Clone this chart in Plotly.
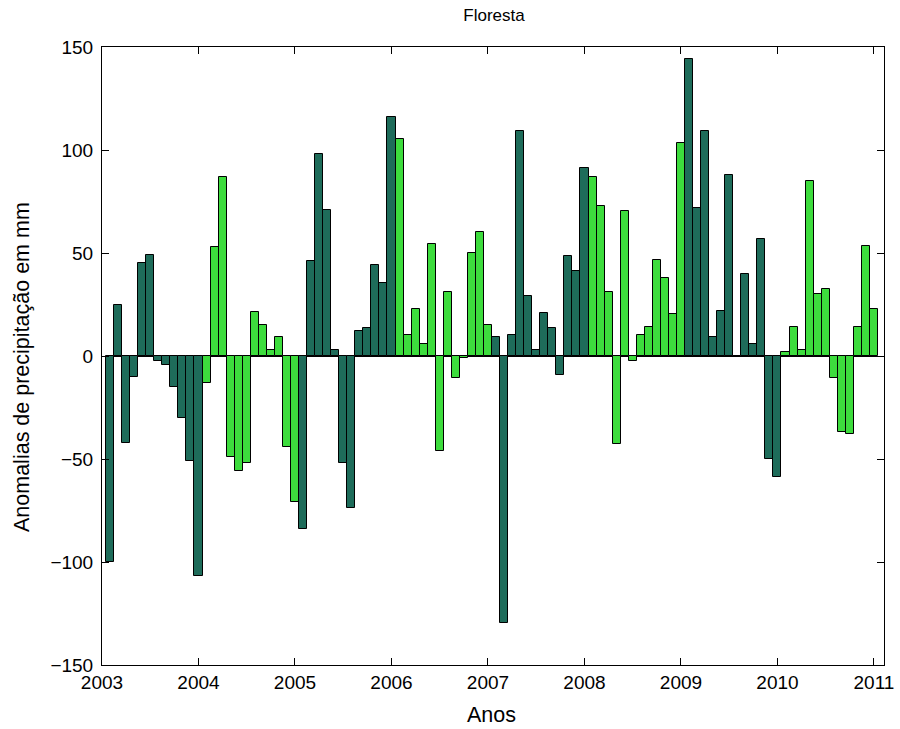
import numpy as np
import plotly.graph_objects as go

# Monthly precipitation anomalies (mm), Jan 2003 .. Dec 2010
years = [2003, 2004, 2005, 2006, 2007, 2008, 2009, 2010]
anom_2003 = [-100, 25, -42, -10, 45, 49, -2.5, -4.5, -15, -30, -51, -107]
anom_2004 = [-13, 53, 87, -49, -56, -52, 21.5, 15, 3, 9, -44, -71]
anom_2005 = [-84, 46, 98, 71, 3, -52, -74, 12, 13.5, 44, 35.5, 116]
anom_2006 = [105.5, 10, 23, 6, 54.5, -46, 31, -10.5, -1, 50, 60, 15]
anom_2007 = [9, -129.5, 10, 109, 29, 3, 21, 13.5, -9, 48.5, 41.5, 91.5]
anom_2008 = [87, 73, 31, -42.5, 70.5, -2.5, 10, 14, 46.5, 38, 20.5, 103.5]
anom_2009 = [144, 72, 109, 9, 22, 88, 0, 40, 6, 57, -50, -58.5]
anom_2010 = [2, 14, 3, 85, 30, 32.5, -10.5, -37, -38, 14, 53.5, 23]
series = [anom_2003, anom_2004, anom_2005, anom_2006,
          anom_2007, anom_2008, anom_2009, anom_2010]

x_ticks = [2003, 2004, 2005, 2006, 2007, 2008, 2009, 2010, 2011]
y_ticks = [-150, -100, -50, 0, 50, 100, 150]

DARK = "#1e6c5a"
GREEN = "#3ddc3d"

W, H = 900, 729
L, R, T, B = 102, 16, 47, 64

fig = go.Figure()
for i, (yr, vals) in enumerate(zip(years, series)):
    months = np.arange(1, 13)
    xs = yr + months / 12.0
    fig.add_trace(go.Bar(
        x=xs, y=vals, width=1 / 12.0,
        marker=dict(color=DARK if i % 2 == 0 else GREEN,
                    line=dict(color="black", width=1)),
        showlegend=False,
    ))

FAM = "Liberation Sans, Arial, sans-serif"
font = dict(family=FAM, size=19, color="black")

pw, ph = W - L - R, H - T - B
fig.update_layout(
    width=W, height=H,
    paper_bgcolor="white", plot_bgcolor="white",
    margin=dict(l=L, r=R, t=T, b=B, autoexpand=False),
    bargap=0, barmode="overlay",
    font=font,
    title=dict(text="Floresta", x=494 / W,
               xanchor="center", y=1 - 15 / H, yanchor="middle",
               font=dict(family=FAM, size=17, color="black")),
    xaxis=dict(range=[2003, 2011.104], tickvals=x_ticks,
               ticktext=[str(v) for v in x_ticks],
               showline=True, linecolor="black", linewidth=1, mirror="ticks",
               ticks="inside", ticklen=7, tickcolor="black",
               showgrid=False, zeroline=False, automargin=False),
    yaxis=dict(range=[-150, 150], tickvals=y_ticks,
               showline=True, linecolor="black", linewidth=1, mirror="ticks",
               ticks="inside", ticklen=7, tickcolor="black",
               showgrid=False, zeroline=True, zerolinecolor="black",
               zerolinewidth=1, ticklabelstandoff=4, automargin=False),
    annotations=[
        dict(text="Anos", xref="paper", yref="paper",
             x=(491 - L) / pw, y=-(715 - (H - B)) / ph,
             xanchor="center", yanchor="middle", showarrow=False,
             font=dict(family=FAM, size=21.5, color="black")),
        dict(text="Anomalias de precipitação em mm", xref="paper", yref="paper",
             x=-(L - 22) / pw, y=((H - B) - 367) / ph, textangle=-90,
             xanchor="center", yanchor="middle", showarrow=False,
             font=dict(family=FAM, size=21.5, color="black")),
    ],
)

fig.write_html("out.html")
